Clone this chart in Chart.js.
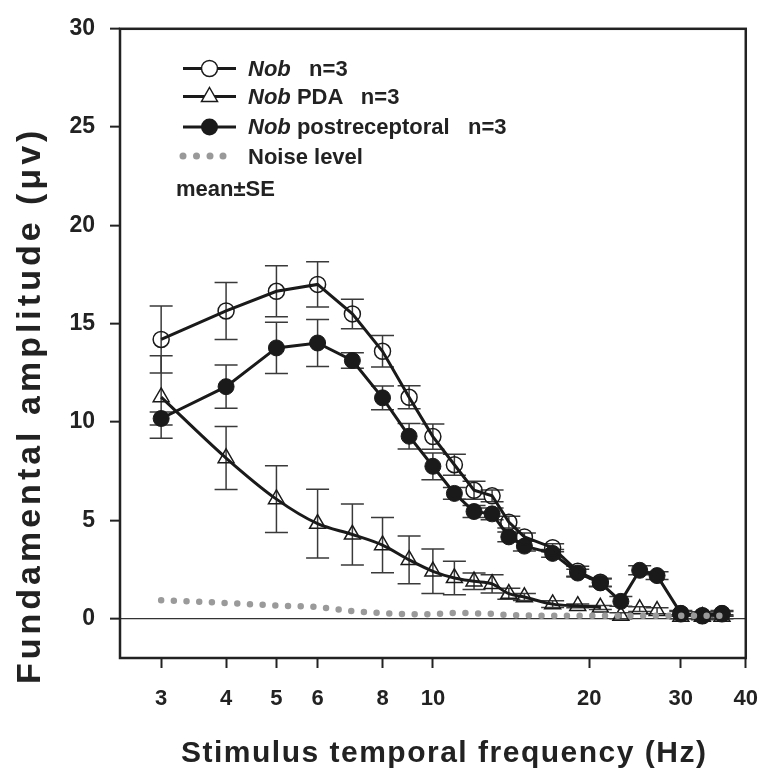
<!DOCTYPE html>
<html>
<head>
<meta charset="utf-8">
<script src="https://cdn.jsdelivr.net/npm/chart.js@4.4.1/dist/chart.umd.min.js"></script>
<style>
  body { margin: 0; background: #fff; }
  #wrap { position: relative; width: 776px; height: 773px; }
  #chart { position: absolute; left: 0; top: 0; }
  #overlay { position: absolute; left: 0; top: 0; pointer-events: none; }
  #overlay text { font-family: 'Liberation Sans', Arial, sans-serif; font-weight: bold; fill: #222; white-space: pre; }
</style>
</head>
<body>
<div id="wrap">
  <canvas id="chart" width="776" height="773"></canvas>
  <svg id="overlay" width="776" height="773" xml:space="preserve">
    <!-- legend -->
    <line x1="183" y1="68.5" x2="236" y2="68.5" stroke="#1a1a1a" stroke-width="3"/>
    <circle cx="209.5" cy="68.5" r="8" fill="#fff" stroke="#1a1a1a" stroke-width="1.5"/>
    <text x="248" y="76" font-size="22"><tspan font-style="italic">Nob</tspan>   n=3</text>

    <line x1="183" y1="96.5" x2="236" y2="96.5" stroke="#1a1a1a" stroke-width="3"/>
    <polygon points="209.5,87.5 217.5,101.5 201.5,101.5" fill="#fff" stroke="#1a1a1a" stroke-width="1.5"/>
    <text x="248" y="104" font-size="22"><tspan font-style="italic">Nob</tspan> PDA   n=3</text>

    <line x1="183" y1="127" x2="236" y2="127" stroke="#1a1a1a" stroke-width="3"/>
    <circle cx="209.5" cy="127" r="8.5" fill="#1a1a1a"/>
    <text x="248" y="134" font-size="22"><tspan font-style="italic">Nob</tspan> postreceptoral   n=3</text>

    <circle cx="183" cy="156" r="3.5" fill="#999"/>
    <circle cx="196.5" cy="156" r="3.5" fill="#999"/>
    <circle cx="210" cy="156" r="3.5" fill="#999"/>
    <circle cx="223" cy="156" r="3.5" fill="#999"/>
    <text x="248" y="164" font-size="22">Noise level</text>

    <text x="176" y="195.5" font-size="22">mean±SE</text>

    <!-- axis titles -->
    <text x="181" y="762" font-size="30" style="letter-spacing:1.5px">Stimulus temporal frequency (Hz)</text>
    <text transform="translate(40,684) rotate(-90)" font-size="34" style="letter-spacing:4px">Fundamental amplitude (μv)</text>
  </svg>
</div>
<script>
// ── Data ───────────────────────────────────────────────────
const freqs    = [3, 4, 5, 6, 7, 8, 9, 10, 11, 12, 13, 14, 15, 17, 19, 21, 23, 25, 27, 30, 33, 36];
const nobAmp   = [14.2, 15.65, 16.65, 17.0, 15.5, 13.6, 11.26, 9.26, 7.83, 6.53, 6.25, 4.91, 4.16, 3.61, 2.41, 1.85, null, null, null, 0.25, 0.15, 0.25];
const nobSE    = [1.7, 1.45, 1.3, 1.15, 0.75, 0.8, 0.58, 0.64, 0.53, 0.46, 0.3, 0.3, 0.2, 0.2, 0.25, 0.2, null, null, null, 0.12, 0.12, 0.12];
const pdaAmp   = [11.27, 8.17, 6.08, 4.83, 4.28, 3.74, 2.99, 2.41, 2.07, 1.9, 1.77, 1.27, 1.1, 0.74, 0.65, 0.57, 0.15, 0.49, 0.4, 0.1, 0.1, 0.1];
const pdaSE    = [2.1, 1.6, 1.7, 1.75, 1.55, 1.4, 1.21, 1.13, 0.85, 0.42, 0.46, 0.28, 0.18, 0.17, 0.1, 0.1, 0.15, 0.12, 0.15, 0.1, 0.1, 0.1];
const postAmp  = [10.18, 11.8, 13.77, 14.02, 13.13, 11.23, 9.28, 7.75, 6.37, 5.45, 5.33, 4.16, 3.69, 3.32, 2.32, 1.82, 0.88, 2.46, 2.19, 0.27, 0.15, 0.27];
const postSE   = [0.33, 1.1, 1.3, 1.2, 0.4, 0.6, 0.65, 0.68, 0.3, 0.3, 0.3, 0.25, 0.25, 0.2, 0.2, 0.2, 0.25, 0.23, 0.2, 0.15, 0.2, 0.15];
const noiseAmp = [0.94, 0.8, 0.67, 0.6, 0.38, 0.28, 0.23, 0.23, 0.3, 0.27, 0.25, 0.18, 0.16, 0.15, 0.15, 0.15, 0.15, 0.15, 0.15, 0.15, 0.15, 0.15];

const xTicks = [3, 4, 5, 6, 8, 10, 20, 30, 40];
const yTicks = [0, 5, 10, 15, 20, 25, 30];

const pts = arr => freqs.map((f, i) => ({ x: f, y: arr[i] }));
const INK = '#1a1a1a';
const FONT = "'Liberation Sans', Arial, sans-serif";

// ── Error bars, drawn under the markers ────────────────────
const errorBars = {
  id: 'errorBars',
  beforeDatasetsDraw(chart) {
    const { ctx, chartArea, scales: { x, y } } = chart;
    ctx.save();
    ctx.beginPath();
    ctx.rect(chartArea.left, chartArea.top, chartArea.right - chartArea.left, chartArea.bottom - chartArea.top);
    ctx.clip();
    ctx.strokeStyle = '#3a3a3a';
    ctx.lineWidth = 1.5;
    chart.data.datasets.forEach(ds => {
      if (!ds.se) return;
      ds.data.forEach((p, i) => {
        if (p.y == null || ds.se[i] == null) return;
        const px = x.getPixelForValue(p.x);
        const top = y.getPixelForValue(p.y + ds.se[i]);
        const bot = y.getPixelForValue(p.y - ds.se[i]);
        ctx.beginPath();
        ctx.moveTo(px, top); ctx.lineTo(px, bot);
        ctx.moveTo(px - 11.5, top); ctx.lineTo(px + 11.5, top);
        ctx.moveTo(px - 11.5, bot); ctx.lineTo(px + 11.5, bot);
        ctx.stroke();
      });
    });
    ctx.restore();
  }
};

// ── Box round the plot ─────────────────────────────────────
const frame = {
  id: 'frame',
  afterDraw(chart) {
    const { ctx, chartArea: a } = chart;
    ctx.save();
    ctx.strokeStyle = '#222';
    ctx.lineWidth = 2.5;
    ctx.strokeRect(a.left, a.top, a.right - a.left, a.bottom - a.top);
    ctx.restore();
  }
};

new Chart(document.getElementById('chart'), {
  type: 'line',
  data: {
    datasets: [
      {
        label: 'Noise level',
        data: pts(noiseAmp),
        borderColor: '#9a9a9a',
        borderWidth: 6.5,
        borderDash: [0, 12.7],
        borderCapStyle: 'round',
        pointRadius: 0,
        tension: 0
      },
      {
        label: 'Nob n=3',
        data: pts(nobAmp),
        se: nobSE,
        borderColor: INK,
        borderWidth: 3,
        pointStyle: 'circle',
        pointRadius: 8,
        pointBorderWidth: 1.5,
        pointBorderColor: INK,
        pointBackgroundColor: 'rgba(0,0,0,0)',
        spanGaps: false,
        tension: 0
      },
      {
        label: 'Nob PDA n=3',
        data: pts(pdaAmp),
        se: pdaSE,
        borderColor: INK,
        borderWidth: 3,
        pointStyle: 'triangle',
        pointRadius: 9.2,
        pointBorderWidth: 1.5,
        pointBorderColor: INK,
        pointBackgroundColor: 'rgba(0,0,0,0)',
        cubicInterpolationMode: 'monotone',
        segment: {
          borderColor: c => c.p0DataIndex >= 15 ? 'rgba(0,0,0,0)' : undefined
        }
      },
      {
        label: 'Nob postreceptoral n=3',
        data: pts(postAmp),
        se: postSE,
        borderColor: INK,
        borderWidth: 3,
        pointStyle: 'circle',
        pointRadius: 8,
        pointBorderWidth: 1,
        pointBorderColor: INK,
        pointBackgroundColor: INK,
        tension: 0
      }
    ]
  },
  options: {
    responsive: false,
    animation: false,
    layout: { padding: { left: 0, right: 19, top: 20, bottom: 0 } },
    plugins: {
      legend: { display: false },
      tooltip: { enabled: false }
    },
    scales: {
      x: {
        type: 'logarithmic',
        min: 2.5,
        max: 40,
        afterBuildTicks: s => { s.ticks = xTicks.map(v => ({ value: v })); },
        afterFit: s => { s.height = 115; },
        border: { display: false },
        grid: { drawOnChartArea: false, tickLength: 10, tickColor: '#222', tickWidth: 2 },
        ticks: {
          autoSkip: false,
          maxRotation: 0,
          padding: 18,
          color: '#222',
          font: { family: FONT, size: 22, weight: 'bold' },
          callback: v => String(v)
        }
      },
      y: {
        min: -2,
        max: 30,
        afterBuildTicks: s => { s.ticks = yTicks.map(v => ({ value: v })); },
        afterFit: s => { s.width = 120; },
        border: { display: false },
        grid: {
          color: c => c.tick && c.tick.value === 0 ? '#333' : 'rgba(0,0,0,0)',
          lineWidth: 1.3,
          tickLength: 10,
          tickColor: '#222',
          tickWidth: 2
        },
        ticks: {
          padding: 15,
          color: '#222',
          font: { family: FONT, size: 23, weight: 'bold' }
        }
      }
    }
  },
  plugins: [errorBars, frame]
});
</script>
</body>
</html>
